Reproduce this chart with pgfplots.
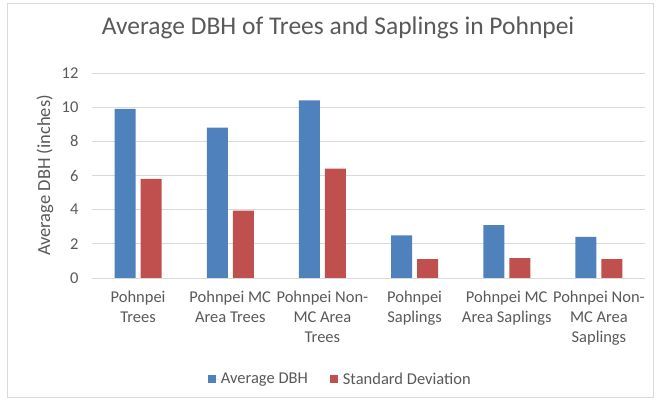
\documentclass[border=0pt]{standalone}
\usepackage{fontspec}
\setmainfont{Carlito}
\usepackage{pgfplots}
\pgfplotsset{compat=1.18}
\definecolor{barblue}{HTML}{4F81BD}
\definecolor{barred}{HTML}{C0504D}
\definecolor{gridc}{HTML}{D9D9D9}
\definecolor{txt}{HTML}{595959}
\begin{document}
\begin{tikzpicture}
\path[use as bounding box] (0pt,0pt) rectangle (656pt,401pt);
\draw[gridc, line width=0.8pt] (7.5pt,3.5pt) rectangle (653.5pt,397.5pt);
\begin{axis}[
  at={(92pt,123pt)}, anchor=south west,
  scale only axis, width=553pt, height=205pt,
  ybar=5pt, bar width=21pt,
  xmin=-0.5, xmax=5.5, ymin=0, ymax=12,
  ytick={0,2,...,12},
  xtick={0,1,2,3,4,5},
  xticklabels={{Pohnpei\\Trees},{Pohnpei MC\\Area Trees},{Pohnpei Non-\\MC Area\\Trees},{Pohnpei\\Saplings},{Pohnpei MC\\Area Saplings},{Pohnpei Non-\\MC Area\\Saplings}},
  xticklabel style={align=center, font=\fontsize{16.5pt}{20pt}\selectfont, text=txt, yshift=-10pt},
  yticklabel style={font=\fontsize{16.5pt}{18pt}\selectfont, text=txt, xshift=-10pt},
  /pgf/number format/assume math mode=true,
  major tick length=0pt,
  ymajorgrids, grid style={gridc, line width=0.9pt},
  axis line style={draw=none},
  axis x line*=bottom,
  x axis line style={draw=gridc, line width=0.9pt},
  ylabel={Average DBH (inches)},
  ylabel style={at={(-0.085,0.5)}, anchor=center, font=\fontsize{18.5pt}{20pt}\selectfont, text=txt},
  title={Average DBH of Trees and Saplings in Pohnpei},
  title style={at={(0.445,1.19)}, anchor=center, font=\fontsize{25.5pt}{28pt}\selectfont, text=txt},
  legend style={at={(0.449,-0.493)}, anchor=center, draw=none, legend columns=2,
    font=\fontsize{16.5pt}{18pt}\selectfont, text=txt,
    /tikz/every even column/.append style={column sep=20pt}},
  legend image code/.code={\fill[#1] (0pt,-4pt) rectangle (8pt,4pt); \path (0pt,0pt) -- (11pt,0pt);},
]
\addplot[fill=barblue, draw=none] coordinates {(0,9.9) (1,8.8) (2,10.4) (3,2.5) (4,3.1) (5,2.4)};
\addplot[fill=barred, draw=none] coordinates {(0,5.8) (1,3.95) (2,6.4) (3,1.1) (4,1.17) (5,1.1)};
\legend{Average DBH, Standard Deviation}
\end{axis}
\end{tikzpicture}
\end{document}
